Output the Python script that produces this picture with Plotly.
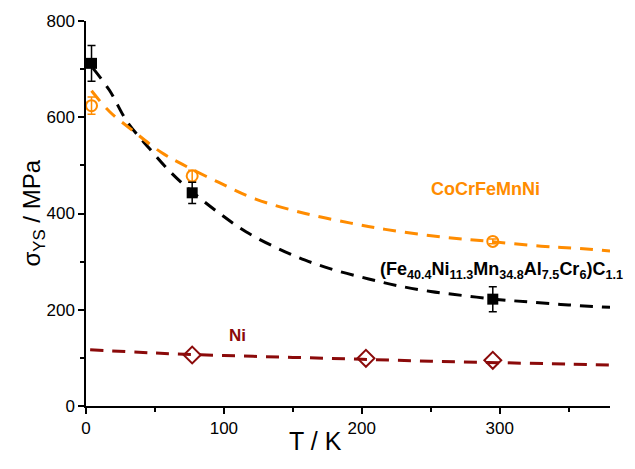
import plotly.graph_objects as go

# Data points
T_hea = [4, 77, 295]
ys_hea = [712, 443, 222]
err_hea = [37, 22, 26]

T_cantor = [4, 77, 295]
ys_cantor = [624, 478, 342]
err_cantor = [18, 12, 5]

T_ni = [77, 203, 295]
ys_ni = [106, 99, 95]

# Fit curves
fit_hea_T = [5, 17, 30, 46, 62, 77, 96, 116, 138, 159, 181, 205, 226, 250, 275, 300, 322, 350, 380]
fit_hea_y = [702, 656, 590, 535, 484, 445, 402, 362, 329, 303, 282, 264, 250, 238, 229, 221, 216, 210, 205]

fit_cantor_T = [4, 17, 34, 55, 70, 96, 123, 159, 192, 217, 259, 293, 330, 354, 380]
fit_cantor_y = [655, 612, 572, 526, 502, 465, 430, 400, 380, 367, 351, 342, 332, 328, 322]

fit_ni_T = [3, 50, 100, 150, 200, 250, 300, 350, 380]
fit_ni_y = [117, 110, 105, 101, 97, 93, 90, 87, 85]

ORANGE = "#FF8C00"
DARKRED = "#8B0A0A"
FONT = "Liberation Sans, Arial, sans-serif"

fig = go.Figure()

dash = "13px,9px"
fig.add_trace(go.Scatter(x=fit_hea_T, y=fit_hea_y, mode="lines", line=dict(color="black", width=3, dash=dash, shape="spline"), hoverinfo="skip"))
fig.add_trace(go.Scatter(x=fit_cantor_T, y=fit_cantor_y, mode="lines", line=dict(color=ORANGE, width=3, dash=dash, shape="spline"), hoverinfo="skip"))
fig.add_trace(go.Scatter(x=fit_ni_T, y=fit_ni_y, mode="lines", line=dict(color=DARKRED, width=3, dash=dash, shape="spline"), hoverinfo="skip"))

fig.add_trace(go.Scatter(x=T_cantor, y=ys_cantor, mode="markers",
                         marker=dict(symbol="circle-open", size=11, color=ORANGE, line=dict(width=2, color=ORANGE)),
                         error_y=dict(type="data", array=err_cantor, color=ORANGE, thickness=1.5, width=4)))
fig.add_trace(go.Scatter(x=T_hea, y=ys_hea, mode="markers",
                         marker=dict(symbol="square", size=11, color="black"),
                         error_y=dict(type="data", array=err_hea, color="black", thickness=1.5, width=4)))
fig.add_trace(go.Scatter(x=T_ni, y=ys_ni, mode="markers",
                         marker=dict(symbol="diamond-open", size=13, color=DARKRED, line=dict(width=2, color=DARKRED))))

axis_common = dict(showline=True, linecolor="black", linewidth=1.5, ticks="outside", ticklen=6,
                   tickwidth=1.5, tickcolor="black", showgrid=False, zeroline=False,
                   tickfont=dict(family=FONT, size=17, color="black"))

fig.update_xaxes(range=[0, 380], tickvals=[0, 100, 200, 300],
                 minor=dict(dtick=50, tick0=0, ticks="outside", ticklen=4, tickcolor="black", tickwidth=1.5, showgrid=False),
                 **axis_common)
fig.update_yaxes(range=[0, 800], tickvals=[0, 200, 400, 600, 800],
                 minor=dict(dtick=100, tick0=0, ticks="outside", ticklen=4, tickcolor="black", tickwidth=1.5, showgrid=False),
                 **axis_common)

fig.add_annotation(text="T / K", xref="paper", yref="paper", x=0.0, y=0, xshift=229, yshift=-35,
                   showarrow=False, xanchor="center", yanchor="middle",
                   font=dict(family=FONT, size=25, color="black"))
fig.add_annotation(text="σ<sub>YS</sub> / MPa", xref="paper", yref="paper", x=0, y=0.5, xshift=-53,
                   showarrow=False, xanchor="center", yanchor="middle", textangle=-90,
                   font=dict(family=FONT, size=24, color="black"))

fig.add_annotation(text="<b>CoCrFeMnNi</b>", x=249, y=451, showarrow=False, xanchor="left", yanchor="middle",
                   font=dict(family=FONT, size=18, color=ORANGE))
fig.add_annotation(text="<b>(Fe<sub>40.4</sub>Ni<sub>11.3</sub>Mn<sub>34.8</sub>Al<sub>7.5</sub>Cr<sub>6</sub>)C<sub>1.1</sub></b>",
                   x=212, y=281, showarrow=False, xanchor="left", yanchor="middle",
                   font=dict(family=FONT, size=18, color="black"))
fig.add_annotation(text="<b>Ni</b>", x=102, y=146, showarrow=False, xanchor="left", yanchor="middle",
                   font=dict(family=FONT, size=17, color=DARKRED))

fig.update_layout(width=635, height=469, margin=dict(l=86, r=25, t=16, b=63),
                  paper_bgcolor="white", plot_bgcolor="white", showlegend=False)

fig.write_html("out.html")
